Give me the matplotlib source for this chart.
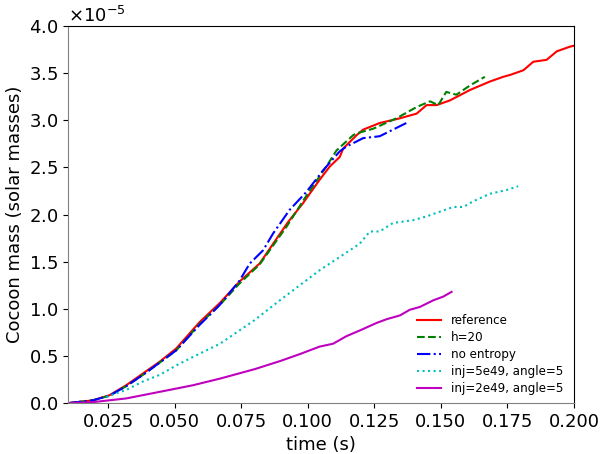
# -*- coding: utf-8 -*-
import matplotlib
matplotlib.use('Agg')
import matplotlib.pyplot as plt
import matplotlib.ticker as mticker
import numpy as np

# values, mass in units of 1e-5 solar masses
t_ref = [0.010, 0.0193, 0.0256, 0.0318, 0.0381, 0.0444, 0.0506, 0.0594, 0.0669,
         0.0744, 0.0819, 0.0882, 0.0926, 0.0982, 0.1045, 0.1083, 0.1120, 0.1133,
         0.1183, 0.1208, 0.1270, 0.1346, 0.1409, 0.1446, 0.1484, 0.1534, 0.1609,
         0.1684, 0.1734, 0.1760, 0.1810, 0.1847, 0.1897, 0.1935, 0.1985, 0.2000]
m_ref = [0.0, 0.03, 0.085, 0.19, 0.315, 0.44, 0.58, 0.86, 1.06,
         1.29, 1.48, 1.74, 1.92, 2.12, 2.37, 2.51, 2.61, 2.70,
         2.84, 2.90, 2.97, 3.02, 3.07, 3.16, 3.16, 3.21, 3.32,
         3.41, 3.46, 3.48, 3.53, 3.62, 3.64, 3.73, 3.78, 3.79]

t_h20 = [0.010, 0.0193, 0.0256, 0.0318, 0.0381, 0.0444, 0.0506, 0.0594, 0.0669,
         0.0744, 0.0819, 0.0882, 0.0920, 0.0995, 0.1070, 0.1108, 0.1170, 0.1183,
         0.1246, 0.1333, 0.1409, 0.1459, 0.1490, 0.1520, 0.1558, 0.1610, 0.1665]
m_h20 = [0.0, 0.03, 0.08, 0.18, 0.30, 0.43, 0.56, 0.84, 1.04,
         1.27, 1.47, 1.72, 1.87, 2.20, 2.51, 2.68, 2.84, 2.86,
         2.91, 3.02, 3.14, 3.20, 3.16, 3.30, 3.27, 3.37, 3.46]

t_noent = [0.010, 0.0193, 0.0256, 0.0318, 0.0381, 0.0444, 0.0506, 0.0594, 0.0669,
           0.0744, 0.0782, 0.0832, 0.0870, 0.0932, 0.0995, 0.1058, 0.1120, 0.1145,
           0.1208, 0.1270, 0.1320, 0.1370]
m_noent = [0.0, 0.03, 0.08, 0.18, 0.30, 0.43, 0.56, 0.83, 1.04,
           1.30, 1.48, 1.62, 1.80, 2.05, 2.24, 2.47, 2.67, 2.72,
           2.81, 2.83, 2.90, 2.97]

t_inj5 = [0.0243, 0.0318, 0.0381, 0.0444, 0.0506, 0.0569, 0.0670, 0.0800, 0.0895,
          0.0970, 0.1045, 0.1120, 0.1195, 0.1233, 0.1270, 0.1320, 0.1396, 0.1446,
          0.1496, 0.1546, 0.1584, 0.1621, 0.1684, 0.1747, 0.1790]
m_inj5 = [0.067, 0.14, 0.23, 0.30, 0.40, 0.49, 0.63, 0.88, 1.09,
          1.25, 1.41, 1.55, 1.69, 1.82, 1.82, 1.91, 1.94, 1.98,
          2.03, 2.08, 2.08, 2.14, 2.22, 2.26, 2.30]

t_inj2 = [0.010, 0.0190, 0.0318, 0.0444, 0.0569, 0.0670, 0.0800, 0.0900, 0.0970,
          0.1045, 0.1095, 0.1145, 0.1195, 0.1258, 0.1296, 0.1346, 0.1383, 0.1421,
          0.1471, 0.1509, 0.1540]
m_inj2 = [0.0, 0.01, 0.05, 0.12, 0.19, 0.26, 0.36, 0.45, 0.52,
          0.60, 0.63, 0.71, 0.77, 0.85, 0.89, 0.93, 0.99, 1.02,
          1.09, 1.13, 1.18]

fig = plt.figure(figsize=(6.03, 4.54), dpi=100)
ax = fig.add_axes([0.113, 0.112, 0.839, 0.831])

scale = 1e-5
ax.plot(t_ref, np.array(m_ref) * scale, 'r-', lw=1.5, label='reference')
ax.plot(t_h20, np.array(m_h20) * scale, 'g--', lw=1.5, label='h=20')
ax.plot(t_noent, np.array(m_noent) * scale, 'b-.', lw=1.5, label='no entropy')
ax.plot(t_inj5, np.array(m_inj5) * scale, 'c:', lw=1.5, label='inj=5e49, angle=5')
ax.plot(t_inj2, np.array(m_inj2) * scale, 'm-', lw=1.5, label='inj=2e49, angle=5')

ax.set_xlim(0.01, 0.2)
ax.set_ylim(0, 4e-5)
ax.set_xticks([0.025, 0.05, 0.075, 0.1, 0.125, 0.15, 0.175, 0.2])
ax.set_yticks(np.arange(0, 4.01, 0.5) * scale)
# "x10^-5" offset written with mathtext
fmt = mticker.ScalarFormatter(useMathText=True)
fmt.set_powerlimits((-3, 3))
ax.yaxis.set_major_formatter(fmt)
ax.tick_params(labelsize=13)
ax.yaxis.get_offset_text().set_fontsize(13)

ax.set_xlabel('time (s)', fontsize=13)
ax.set_ylabel('Cocoon mass (solar masses)', fontsize=13)

# left/bottom spines are drawn gray in the reference
ax.spines['left'].set_color('0.5')
ax.spines['bottom'].set_color('0.5')

ax.legend(loc='lower right', bbox_to_anchor=(1.0, -0.008), fontsize=8.6,
          labelspacing=0.35, frameon=False)

fig.savefig('out.png', dpi=100)
